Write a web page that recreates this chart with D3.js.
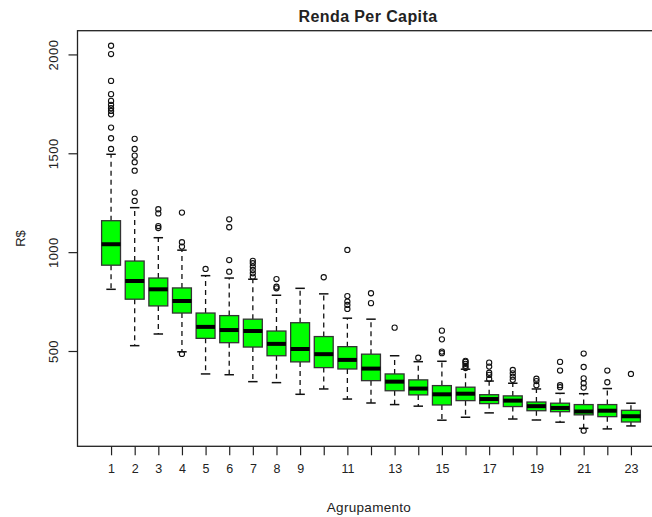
<!DOCTYPE html>
<html><head><meta charset="utf-8">
<script src="https://cdn.jsdelivr.net/npm/d3@7"></script>
<style>
body{margin:0;background:#fff;}
svg{display:block;font-family:"Liberation Sans",Arial,sans-serif;}
</style></head>
<body><svg id="c" width="652" height="517"></svg>
<script>
const groups = d3.range(1, 24);
const whiskerLow = [812,527,586,496,384,380,345,340,281,308,257,237,229,221,150,165,187,156,151,140,109,106,121];
const q1 =        [934,762,728,692,564,542,520,476,445,416,409,350,299,278,227,249,234,219,198,193,177,168,141];
const median =    [1040,854,812,753,622,606,601,536,510,484,455,411,345,310,281,284,257,249,221,212,194,198,170];
const q3 =        [1159,955,869,819,692,679,661,601,643,573,522,484,384,354,325,317,279,273,242,236,229,229,200];
const whiskerHigh=[1495,1225,1073,1010,881,869,863,782,817,789,666,661,476,446,448,408,348,337,308,286,284,310,236];
const outliers = [
  [1522,1576,1630,1697,1714,1728,1745,1765,1799,1866,2002,2044],
  [1259,1301,1412,1455,1488,1522,1573],
  [1122,1132,1196,1217],
  [485,1028,1050,1200],
  [915],
  [901,960,1126,1166],
  [876,893,910,927,944,956],
  [817,825,864],
  [],
  [873],
  [713,733,750,778,1011],
  [742,792],
  [618],
  [466],
  [489,497,559,603],
  [414,425,435,445,450],
  [359,379,390,421,441],
  [354,370,387,404],
  [327,348,360],
  [317,327,401,445],
  [97,315,337,362,419,487],
  [342,401],
  [384]
];
const yTicks = [500, 1000, 1500, 2000];
const xLabels = [1,2,3,4,5,6,7,8,9,11,13,15,17,19,21,23];

const svg = d3.select("#c");
const pLeft = 77.5, pRight = 664.5, pTop = 30.7, pBottom = 446.3;
const x = d3.scaleLinear().domain([-0.42, 24.42]).range([pLeft, pRight]);
const y = d3.scaleLinear().domain([18, 2120]).range([pBottom, pTop]);
const bw = (x(1) - x(0)) * 0.8;
const textCol = "#222";

const g = svg.append("g");
groups.forEach((k, i) => {
  const cx = x(k);
  g.append("line").attr("x1", cx).attr("x2", cx).attr("y1", y(q3[i])).attr("y2", y(whiskerHigh[i]))
    .attr("stroke", "#111").attr("stroke-width", 1.3).attr("stroke-dasharray", "5,4");
  g.append("line").attr("x1", cx).attr("x2", cx).attr("y1", y(q1[i])).attr("y2", y(whiskerLow[i]))
    .attr("stroke", "#111").attr("stroke-width", 1.3).attr("stroke-dasharray", "5,4");
  [whiskerHigh[i], whiskerLow[i]].forEach(v => {
    g.append("line").attr("x1", cx - bw / 4).attr("x2", cx + bw / 4).attr("y1", y(v)).attr("y2", y(v))
      .attr("stroke", "#111").attr("stroke-width", 1.5);
  });
  g.append("rect").attr("x", cx - bw / 2).attr("width", bw)
    .attr("y", y(q3[i])).attr("height", y(q1[i]) - y(q3[i]))
    .attr("fill", "#00ff00").attr("stroke", "#333").attr("stroke-width", 1.3);
  g.append("line").attr("x1", cx - bw / 2).attr("x2", cx + bw / 2).attr("y1", y(median[i])).attr("y2", y(median[i]))
    .attr("stroke", "#000").attr("stroke-width", 4);
  outliers[i].forEach(v => {
    g.append("circle").attr("cx", cx).attr("cy", y(v)).attr("r", 2.6)
      .attr("fill", "none").attr("stroke", "#111").attr("stroke-width", 1.1);
  });
});

svg.append("rect").attr("x", pLeft).attr("y", pTop).attr("width", pRight - pLeft).attr("height", pBottom - pTop)
  .attr("fill", "none").attr("stroke", "#222").attr("stroke-width", 1.3);

const ya = svg.append("g").attr("transform", `translate(${pLeft},0)`)
  .call(d3.axisLeft(y).tickValues(yTicks).tickSize(9).tickPadding(0).tickFormat(d3.format("d")));
ya.select(".domain").remove();
ya.selectAll(".tick line").attr("stroke", "#222").attr("stroke-width", 1.2);
ya.selectAll(".tick text").attr("x", 0).attr("dy", 0)
  .attr("transform", "translate(-20,0) rotate(-90)")
  .attr("text-anchor", "middle").attr("font-size", 13).attr("letter-spacing", 0.5).attr("fill", textCol)
  .attr("font-family", "Liberation Sans, Arial, sans-serif");

const xa = svg.append("g").attr("transform", `translate(0,${pBottom})`)
  .call(d3.axisBottom(x).tickValues(groups).tickSize(9).tickPadding(9)
    .tickFormat(d => xLabels.includes(d) ? d : ""));
xa.select(".domain").remove();
xa.selectAll(".tick line").attr("stroke", "#222").attr("stroke-width", 1.2);
xa.selectAll(".tick text").attr("font-size", 12.5).attr("fill", textCol)
  .attr("font-family", "Liberation Sans, Arial, sans-serif");

svg.append("text").attr("x", (pLeft + pRight) / 2 - 3).attr("y", 22).attr("text-anchor", "middle")
  .attr("font-size", 16).attr("letter-spacing", 0.4).attr("font-weight", "bold").attr("fill", textCol).text("Renda Per Capita");
svg.append("text").attr("x", (pLeft + pRight) / 2 - 2).attr("y", 512).attr("text-anchor", "middle")
  .attr("font-size", 13.5).attr("letter-spacing", 0.3).attr("fill", textCol).text("Agrupamento");
svg.append("text").attr("transform", `translate(25,${(pTop + pBottom) / 2}) rotate(-90)`).attr("text-anchor", "middle")
  .attr("font-size", 13).attr("fill", textCol).text("R$");
</script></body></html>
